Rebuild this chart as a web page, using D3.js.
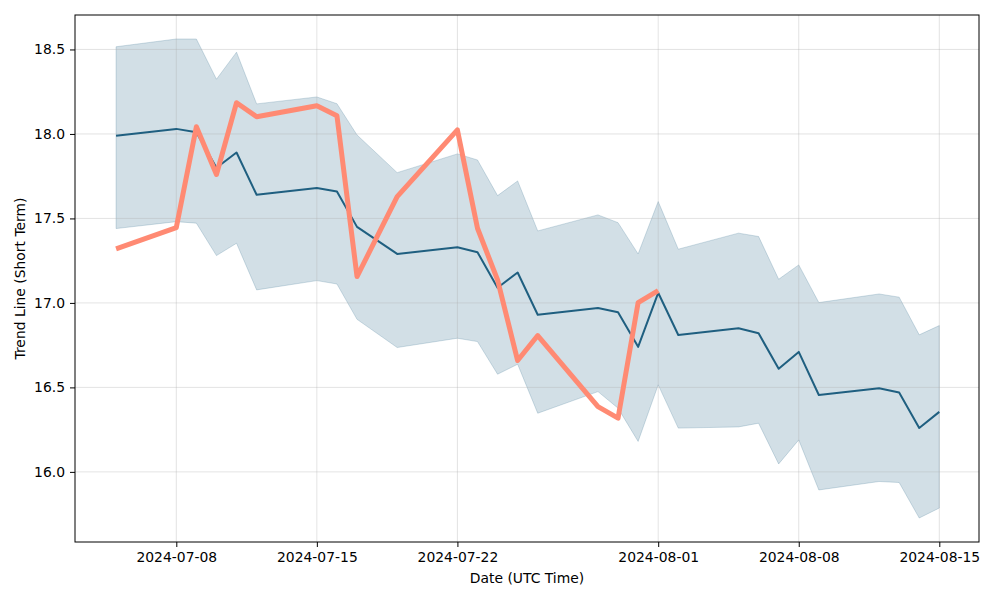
<!DOCTYPE html>
<html>
<head>
<meta charset="utf-8">
<script src="https://cdn.jsdelivr.net/npm/d3@7"></script>
<style>
  html, body { margin: 0; padding: 0; background: #fff; }
  svg { display: block; font-family: "DejaVu Sans", sans-serif; }
</style>
</head>
<body>
<svg id="chart" width="1000" height="600"></svg>
<script>
// ---- data ----
const dates = ["2024-07-05","2024-07-08","2024-07-09","2024-07-10","2024-07-11","2024-07-12",
  "2024-07-15","2024-07-16","2024-07-17","2024-07-19","2024-07-22","2024-07-23","2024-07-24",
  "2024-07-25","2024-07-26","2024-07-29","2024-07-30","2024-07-31","2024-08-01","2024-08-02",
  "2024-08-05","2024-08-06","2024-08-07","2024-08-08","2024-08-09","2024-08-12","2024-08-13",
  "2024-08-14","2024-08-15"];
const trend = [17.99,18.03,18.01,17.80,17.89,17.64,17.68,17.66,17.45,17.29,17.33,17.30,17.09,
  17.18,16.93,16.97,16.945,16.74,17.06,16.81,16.85,16.82,16.61,16.71,16.455,16.495,16.47,16.26,16.355];
const upper = [18.516,18.562,18.562,18.324,18.484,18.178,18.219,18.179,17.994,17.771,17.882,17.846,
  17.635,17.722,17.426,17.521,17.475,17.29,17.60,17.318,17.413,17.393,17.14,17.225,17.002,17.053,
  17.034,16.811,16.866];
const lower = [17.44,17.481,17.472,17.28,17.353,17.077,17.132,17.112,16.903,16.736,16.791,16.771,
  16.578,16.637,16.347,16.475,16.377,16.18,16.515,16.259,16.266,16.288,16.047,16.189,15.893,15.943,
  15.937,15.727,15.786];
const actualDates = dates.slice(0, 19);
const actual = [17.32,17.446,18.043,17.76,18.185,18.102,18.167,18.108,17.156,17.629,18.024,17.442,
  17.136,16.659,16.807,16.386,16.318,17.002,17.073];
const xTicks = ["2024-07-08","2024-07-15","2024-07-22","2024-08-01","2024-08-08","2024-08-15"];
const yTicks = [16.0,16.5,17.0,17.5,18.0,18.5];

// ---- layout ----
const L = 75, R = 979, T = 15, B = 542;
const svg = d3.select("#chart");
const parse = d3.utcParse("%Y-%m-%d");

const xDomain = [new Date(Date.UTC(2024,6,2,22,55)), new Date(Date.UTC(2024,7,16,23,27))];
const x = d3.scaleUtc().domain(xDomain).range([L, R]);
const y = d3.scaleLinear().domain([15.585, 18.704]).range([B, T]);

const lineColor = "#1f5f80";
const bandData = dates.map((d, i) => ({ d: parse(d), lo: lower[i], hi: upper[i], m: trend[i] }));
const actData = actualDates.map((d, i) => ({ d: parse(d), v: actual[i] }));

// band
svg.append("path")
  .datum(bandData)
  .attr("d", d3.area().x(p => x(p.d)).y0(p => y(p.lo)).y1(p => y(p.hi)))
  .attr("fill", lineColor).attr("fill-opacity", 0.2)
  .attr("stroke", lineColor).attr("stroke-opacity", 0.2).attr("stroke-width", 1);

// grid
const grid = svg.append("g");
grid.selectAll("line.vx").data(xTicks).enter().append("line")
  .attr("x1", d => x(parse(d))).attr("x2", d => x(parse(d)))
  .attr("y1", T).attr("y2", B)
  .attr("stroke", "#b0b0b0").attr("stroke-opacity", 0.35).attr("stroke-width", 1);
grid.selectAll("line.hy").data(yTicks).enter().append("line")
  .attr("x1", L).attr("x2", R)
  .attr("y1", d => y(d)).attr("y2", d => y(d))
  .attr("stroke", "#b0b0b0").attr("stroke-opacity", 0.35).attr("stroke-width", 1);

// trend line
svg.append("path")
  .datum(bandData)
  .attr("d", d3.line().x(p => x(p.d)).y(p => y(p.m)))
  .attr("fill", "none").attr("stroke", lineColor).attr("stroke-width", 2)
  .attr("stroke-linejoin", "round");

// actual line
svg.append("path")
  .datum(actData)
  .attr("d", d3.line().x(p => x(p.d)).y(p => y(p.v)))
  .attr("fill", "none").attr("stroke", "#ff8a73").attr("stroke-width", 5)
  .attr("stroke-linejoin", "round").attr("stroke-linecap", "butt");

// axes
const xAxis = d3.axisBottom(x)
  .tickValues(xTicks.map(parse))
  .tickFormat(d3.utcFormat("%Y-%m-%d"))
  .tickSize(5).tickPadding(5);
const gx = svg.append("g").attr("transform", `translate(0,${B})`).call(xAxis);
const yAxis = d3.axisLeft(y).tickValues(yTicks).tickFormat(d3.format(".1f")).tickSize(5).tickPadding(5);
const gy = svg.append("g").attr("transform", `translate(${L},0)`).call(yAxis);
[gx, gy].forEach(g => {
  g.select(".domain").remove();
  g.selectAll("text").attr("font-size", "13.9px").attr("fill", "#000")
    .attr("font-family", "DejaVu Sans, sans-serif");
  g.selectAll("line").attr("stroke", "#000");
});

// frame
svg.append("rect").attr("x", L).attr("y", T).attr("width", R - L).attr("height", B - T)
  .attr("fill", "none").attr("stroke", "#000").attr("stroke-width", 1);

// labels
svg.append("text").attr("x", (L + R) / 2).attr("y", 583)
  .attr("text-anchor", "middle").attr("font-size", "13.9px").text("Date (UTC Time)");
svg.append("text").attr("transform", `translate(25,${(T + B) / 2}) rotate(-90)`)
  .attr("text-anchor", "middle").attr("font-size", "13.9px").text("Trend Line (Short Term)");
</script>
</body>
</html>
